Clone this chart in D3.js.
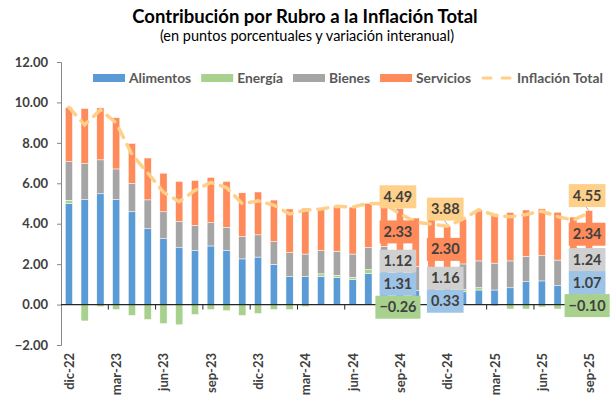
<!DOCTYPE html>
<html>
<head>
<meta charset="utf-8">
<script src="https://cdn.jsdelivr.net/npm/d3@7"></script>
<style>
    body { margin: 0; background: #fff; }
    text { font-family: Lato, "DejaVu Sans", sans-serif; }
</style>
</head>
<body>
<div id="chart"></div>
<script>
// Data (puntos porcentuales)
const meses = ["dic-22", "ene-23", "feb-23", "mar-23", "abr-23", "may-23", "jun-23", "jul-23", "ago-23", "sep-23",
    "oct-23", "nov-23", "dic-23", "ene-24", "feb-24", "mar-24", "abr-24", "may-24", "jun-24", "jul-24", "ago-24",
    "sep-24", "oct-24", "nov-24", "dic-24", "ene-25", "feb-25", "mar-25", "abr-25", "may-25", "jun-25", "jul-25",
    "ago-25", "sep-25"];
const alimentos = [4.99, 5.19, 5.48, 5.19, 4.59, 3.75, 3.26, 2.81, 2.67, 2.90, 2.67, 2.26, 2.35, 1.99, 1.38, 1.38,
    1.40, 1.33, 1.23, 1.53, 1.70, 1.31, 0.69, 0.45, 0.33, 0.63, 0.72, 0.72, 0.83, 1.13, 1.17, 0.93, 0.76, 1.07];
const energia = [0.17, -0.81, -0.10, -0.25, -0.54, -0.74, -0.94, -1.00, -0.49, -0.25, -0.30, -0.54, -0.44, -0.25,
    -0.25, -0.10, 0.12, 0.12, 0.12, 0.20, 0.10, -0.26, -0.20, -0.35, 0.09, 0.12, 0.12, -0.07, -0.22, -0.22, -0.12,
    -0.22, -0.15, -0.10];
const bienes = [1.91, 1.78, 1.68, 1.52, 1.40, 1.43, 1.33, 1.30, 1.25, 1.15, 1.15, 1.10, 1.10, 1.12, 1.19, 1.12,
    1.15, 1.19, 1.15, 1.09, 1.08, 1.12, 1.20, 1.25, 1.16, 1.26, 1.32, 1.33, 1.33, 1.25, 1.27, 1.27, 1.25, 1.24];
const servicios = [2.69, 2.73, 2.57, 2.53, 1.98, 2.07, 1.91, 1.98, 2.22, 2.24, 2.27, 2.17, 2.12, 2.06, 2.16, 2.27,
    2.06, 2.22, 2.32, 2.19, 2.10, 2.33, 2.39, 2.63, 2.30, 2.22, 2.53, 2.44, 2.40, 2.30, 2.30, 2.37, 2.32, 2.34];
const inflacionTotal = [9.76, 8.89, 9.63, 8.99, 7.43, 6.51, 5.56, 5.09, 5.65, 6.04, 5.79, 4.99, 5.13, 4.92, 4.48,
    4.67, 4.73, 4.86, 4.82, 5.01, 4.98, 4.49, 4.08, 3.98, 3.88, 4.23, 4.69, 4.42, 4.34, 4.46, 4.62, 4.35, 4.18, 4.55];

const rubros = ["Alimentos", "Energía", "Bienes", "Servicios"];
const yTicks = [-2, 0, 2, 4, 6, 8, 10, 12];
const mesesEtiquetados = ["sep-24", "dic-24", "sep-25"];
const etiquetasOcultas = [["dic-24", "Energía"]];

class StackedInflation {

    constructor(parentElement) {
        this.parentElement = parentElement;
        this.initVis();
    }

    initVis() {
        let vis = this;

        vis.width = 613;
        vis.height = 403;
        vis.plot = { left: 61, right: 597, top: 62, bottom: 345 };

        vis.colors = d3.scaleOrdinal()
            .domain(rubros)
            .range(["#5B9BD5", "#A9D18E", "#A5A5A5", "#FF8B5A"]);
        vis.labelFill = { "Alimentos": "#9DC3E6", "Energía": "#A9D18E", "Bienes": "#D0D0D0", "Servicios": "#FF8B5A" };
        vis.lineColor = "#FFD08A";

        vis.svg = d3.select("#" + vis.parentElement).append("svg")
            .attr("width", vis.width)
            .attr("height", vis.height);

        // Scales
        vis.x = d3.scaleBand()
            .domain(meses)
            .range([vis.plot.left, vis.plot.right])
            .paddingInner(0.54)
            .paddingOuter(0.27);

        vis.y = d3.scaleLinear()
            .domain([d3.min(yTicks), d3.max(yTicks)])
            .range([vis.plot.bottom, vis.plot.top]);

        // Title
        vis.svg.append("text")
            .attr("x", 305)
            .attr("y", 23)
            .attr("text-anchor", "middle")
            .style("font-size", "18.5px")
            .style("font-weight", "bold")
            .text("Contribución por Rubro a la Inflación Total");

        vis.svg.append("text")
            .attr("x", 307)
            .attr("y", 41)
            .attr("text-anchor", "middle")
            .style("font-size", "14.5px")
            .text("(en puntos porcentuales y variación interanual)");

        vis.wrangleData();
    }

    wrangleData() {
        let vis = this;

        vis.rows = meses.map((m, i) => ({
            mes: m,
            "Alimentos": alimentos[i],
            "Energía": energia[i],
            "Bienes": bienes[i],
            "Servicios": servicios[i],
            total: inflacionTotal[i]
        }));

        vis.stacked = d3.stack()
            .keys(rubros)
            .offset(d3.stackOffsetDiverging)(vis.rows);

        vis.updateVis();
    }

    updateVis() {
        let vis = this;

        // Y axis
        let yAxis = d3.axisLeft(vis.y)
            .tickValues(yTicks)
            .tickFormat(d3.format(".2f"))
            .tickSize(4)
            .tickPadding(9);

        let yG = vis.svg.append("g")
            .attr("transform", "translate(" + vis.plot.left + ",0)")
            .call(yAxis);
        yG.select(".domain").attr("stroke", "#868686");
        yG.selectAll(".tick line").attr("stroke", "#868686");
        yG.selectAll("text")
            .attr("fill", "#404040")
            .style("font-size", "13px")
            .style("font-weight", "bold");

        // Bars
        vis.svg.append("g")
            .selectAll("g")
            .data(vis.stacked)
            .join("g")
            .attr("fill", d => vis.colors(d.key))
            .selectAll("rect")
            .data(d => d)
            .join("rect")
            .attr("x", d => vis.x(d.data.mes))
            .attr("y", d => vis.y(Math.max(d[0], d[1])))
            .attr("width", vis.x.bandwidth())
            .attr("height", d => Math.abs(vis.y(d[0]) - vis.y(d[1])))
            .attr("stroke", "#fff")
            .attr("stroke-width", 0.5);

        // Category axis at zero (ticks every 3 months, between categories)
        let y0 = vis.y(0);
        vis.svg.append("line")
            .attr("x1", vis.plot.left).attr("x2", vis.plot.right + 6)
            .attr("y1", y0).attr("y2", y0)
            .attr("stroke", "#262626")
            .attr("stroke-width", 1.2);

        let tickMeses = meses.filter((m, i) => i % 3 === 0);
        let half = (vis.x.step() - vis.x.bandwidth()) / 2;
        vis.svg.append("g")
            .selectAll("line")
            .data(tickMeses.slice(1))
            .join("line")
            .attr("x1", d => vis.x(d) - half)
            .attr("x2", d => vis.x(d) - half)
            .attr("y1", y0)
            .attr("y2", y0 + 5)
            .attr("stroke", "#262626");

        vis.svg.append("g")
            .selectAll("text")
            .data(tickMeses)
            .join("text")
            .attr("transform", d => "translate(" + (vis.x(d) + vis.x.bandwidth() / 2 + 5) + "," + (vis.plot.bottom + 8) + ") rotate(-90)")
            .attr("text-anchor", "end")
            .attr("fill", "#404040")
            .style("font-size", "13px")
            .style("font-weight", "bold")
            .text(d => d);

        // Inflation total line
        let line = d3.line()
            .x(d => vis.x(d.mes) + vis.x.bandwidth() / 2)
            .y(d => vis.y(d.total));

        vis.svg.append("path")
            .datum(vis.rows)
            .attr("d", line)
            .attr("fill", "none")
            .attr("stroke", vis.lineColor)
            .attr("stroke-width", 3.5)
            .attr("stroke-dasharray", "10,8")
            .attr("stroke-linecap", "round");

        // Legend
        let legend = vis.svg.append("g").attr("transform", "translate(93,78)");
        let lx = 0;
        rubros.concat(["Inflación Total"]).forEach((name, i) => {
            if (i < rubros.length) {
                legend.append("rect")
                    .attr("x", lx).attr("y", -4)
                    .attr("width", 32).attr("height", 8)
                    .attr("fill", vis.colors(name));
            } else {
                legend.append("line")
                    .attr("x1", lx + 2).attr("x2", lx + 30)
                    .attr("y1", 0).attr("y2", 0)
                    .attr("stroke", vis.lineColor)
                    .attr("stroke-width", 3)
                    .attr("stroke-dasharray", "8,11")
                    .attr("stroke-linecap", "round");
            }
            let t = legend.append("text")
                .attr("x", lx + 36)
                .attr("y", 4.5)
                .attr("fill", "#595959")
                .style("font-size", "13.8px")
                .style("font-weight", "bold")
                .text(name);
            lx += 36 + t.node().getComputedTextLength() + 10;
        });

        // Data labels for the highlighted months
        let boxH = 23;
        let labels = [];
        mesesEtiquetados.forEach(m => {
            let idx = meses.indexOf(m);
            let col = [];
            vis.stacked.forEach(s => {
                if (etiquetasOcultas.some(e => e[0] === m && e[1] === s.key)) return;
                let seg = s[idx];
                col.push({
                    mes: m,
                    key: s.key,
                    value: vis.rows[idx][s.key],
                    y: (vis.y(seg[0]) + vis.y(seg[1])) / 2
                });
            });
            // keep the lowest label in place, push the others up so boxes don't overlap
            col.sort((a, b) => b.y - a.y);
            for (let k = 1; k < col.length; k++) {
                col[k].y = Math.min(col[k].y, col[k - 1].y - boxH);
            }
            let top = col[col.length - 1];
            let py = vis.y(vis.rows[idx].total);
            col.push({
                mes: m,
                key: "total",
                value: vis.rows[idx].total,
                y: Math.min(py - 17, top.y - boxH),
                py: py
            });
            labels = labels.concat(col);
        });

        let lg = vis.svg.append("g");

        // leader lines for the total labels
        lg.selectAll("line")
            .data(labels.filter(d => d.key === "total"))
            .join("line")
            .attr("x1", d => vis.x(d.mes) + vis.x.bandwidth() / 2)
            .attr("y1", d => d.py - 2)
            .attr("x2", d => vis.x(d.mes) + vis.x.bandwidth() / 2 - 3)
            .attr("y2", d => d.y + boxH / 2)
            .attr("stroke", "#A6A6A6")
            .attr("stroke-width", 1);

        let lab = lg.selectAll("g.lab")
            .data(labels)
            .join("g")
            .attr("class", "lab")
            .attr("transform", d => "translate(" + (vis.x(d.mes) + vis.x.bandwidth() / 2 - 2) + "," + d.y + ")");

        lab.append("rect");
        lab.append("text")
            .attr("text-anchor", "middle")
            .attr("y", 5)
            .attr("fill", "#404040")
            .style("font-size", "14.5px")
            .style("font-weight", "bold")
            .text(d => d3.format(".2f")(d.value));

        lab.each(function () {
            let g = d3.select(this);
            let w = g.select("text").node().getComputedTextLength() + 8;
            g.select("rect")
                .attr("x", -w / 2)
                .attr("y", -boxH / 2)
                .attr("width", w)
                .attr("height", boxH)
                .attr("fill", d => d.key === "total" ? vis.lineColor : vis.labelFill[d.key]);
        });
    }
}

new StackedInflation("chart");
</script>
</body>
</html>
